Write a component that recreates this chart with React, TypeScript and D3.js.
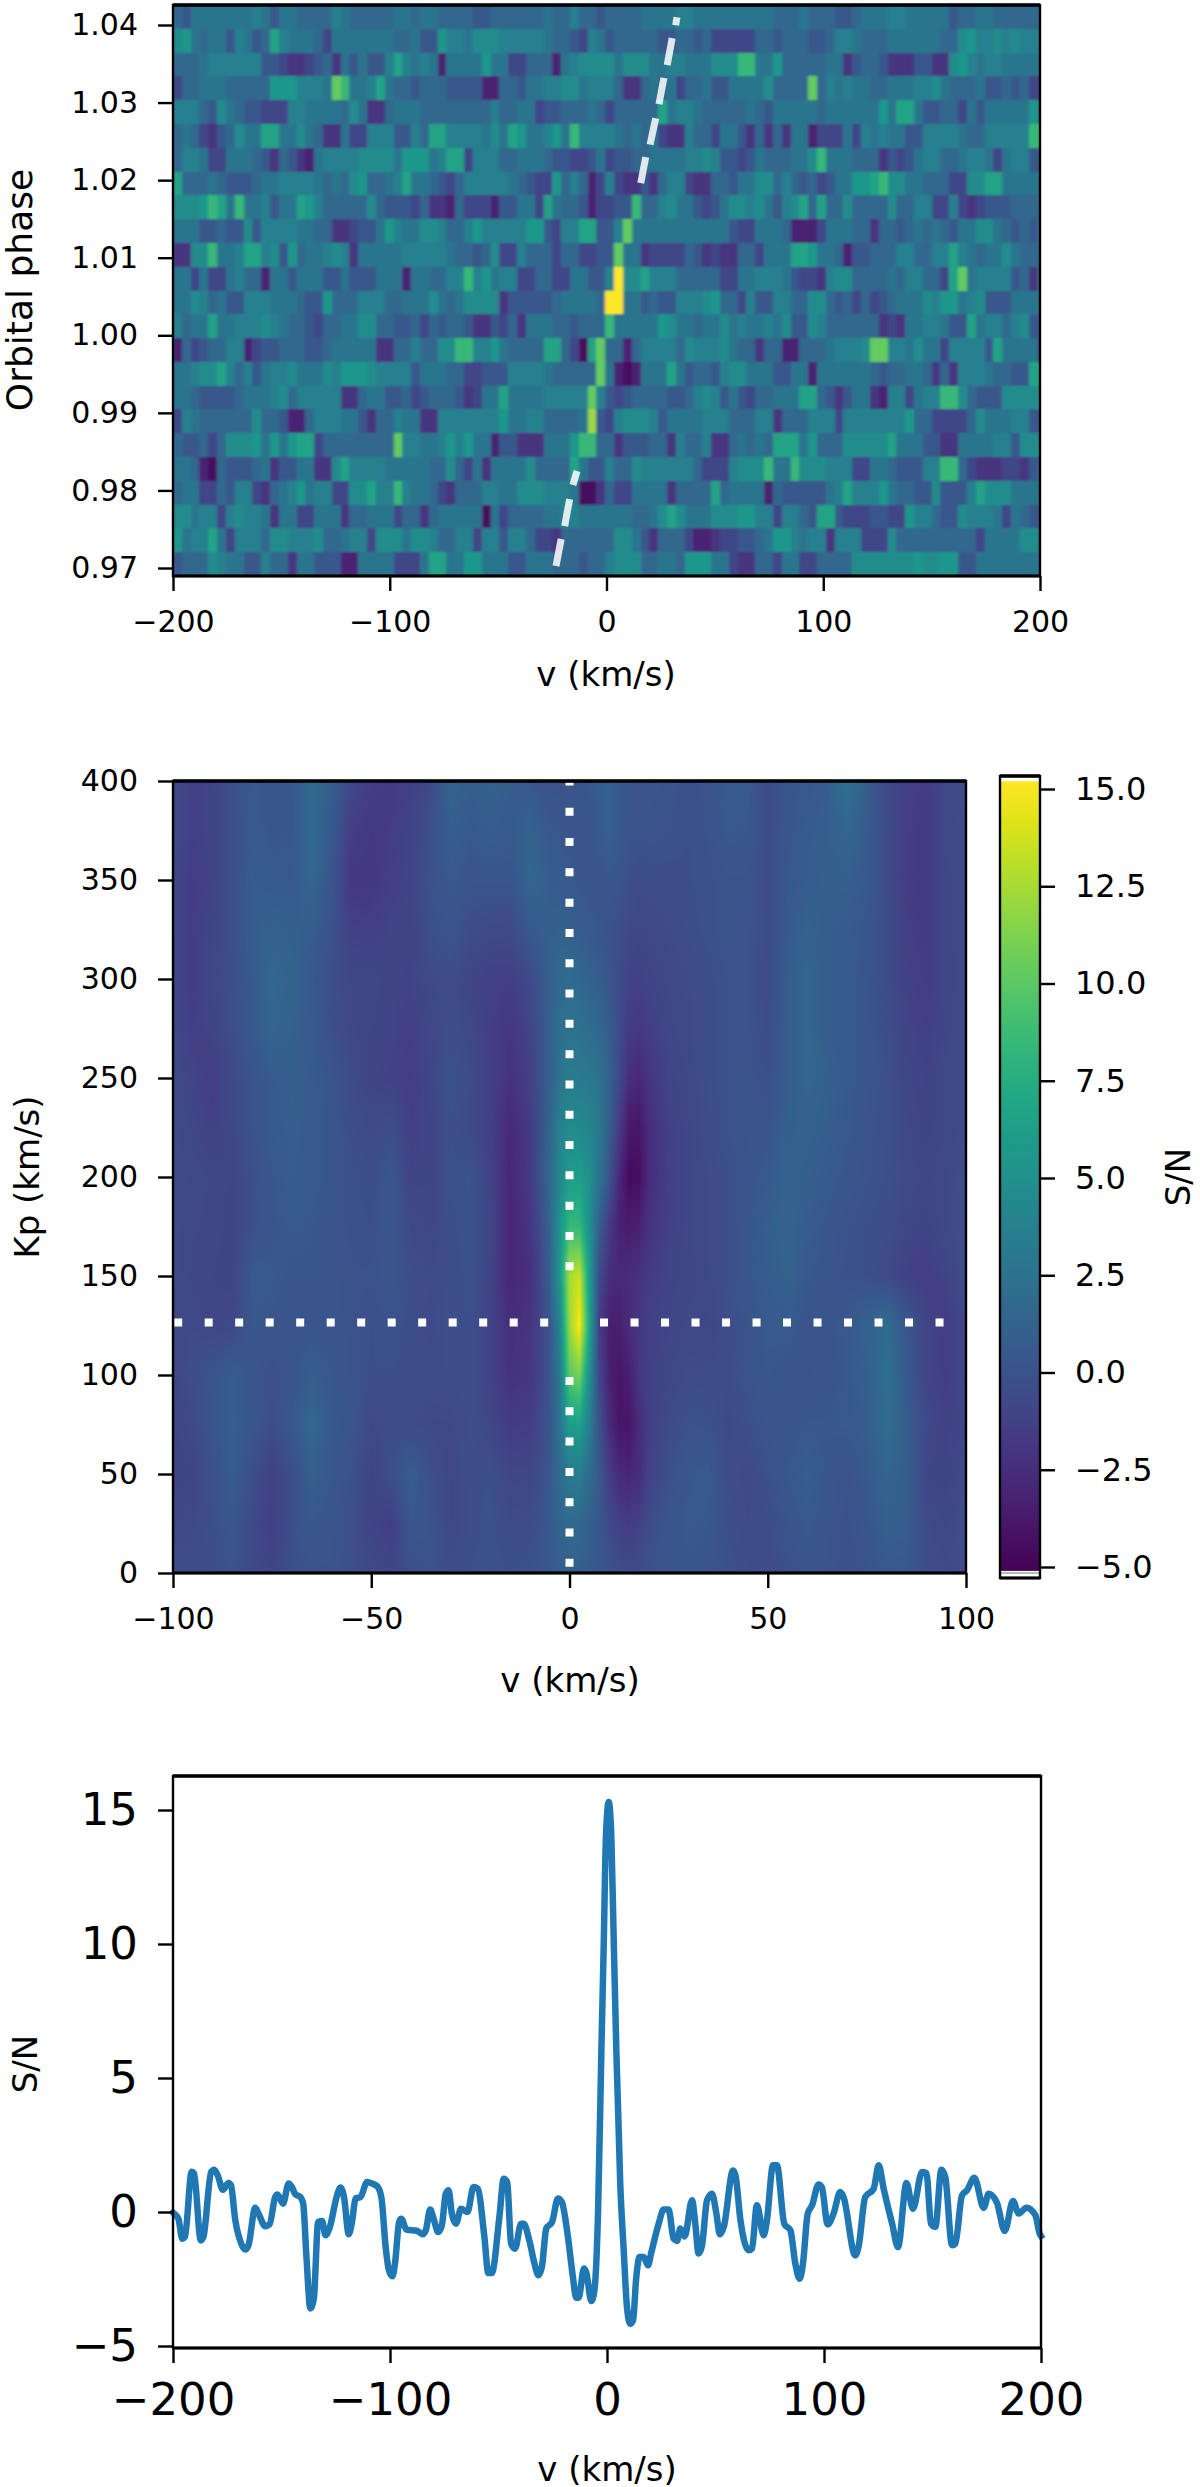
import React, { useRef, useEffect } from 'react';
import * as d3 from 'd3';

const WIDTH = 1200;
const HEIGHT = 2487;
const FONT = '"DejaVu Sans", sans-serif';

// top panel: one string per orbital phase row (top to bottom), one char per velocity bin, hex colour level 0-f
const ccfRows = [
  '5466666667 6466555576 5555566566 5555445555 5565575545 5556666776 6666666655 5655544566 6776666645 5665555555',
  '8965664764 5a76665366 6666655644 9776888777 7765543764 5555544554 5333335545 5544577655 5666666558 9778787764',
  '5556777777 4432234526 46447a7676 1666696633 5551678888 6888667766 6888bb6695 5555662455 4222442289 7677666666',
  '3556665555 59997776cb 667a655455 5444411554 6677886777 5225656355 6446666855 55c5767665 5666778655 5644545333',
  '7775486544 3337766665 8622566655 5555557556 6344555653 55555a6776 5555565466 6665666666 96aa644553 6466666965',
  '5653245866 aa66865226 337774475a a7777686a9 66796b7777 6565632275 5366425252 6613336376 7664477776 5577777bbb',
  '5776336665 4254216777 7888869996 7aa3777556 6654433463 4455666677 8744346555 668b666555 2434677556 7763677444',
  'a555654445 6677776565 895567a665 4357777765 4339575137 3224257732 2554668857 545346699a b886655533 88aa666666',
  '8889ba6b66 7466a97555 5585444352 2153331446 63a6554133 44b5578664 3468878647 8a5a558555 5855773373 2344455555',
  '6664454484 7777665522 3446976688 7557977777 994377aa44 7c66666666 6664336665 1113666552 5545656546 6886545466',
  '2288b667aa 7849566787 2666667777 7655458337 5553553344 c662333354 2322553666 aa96651445 55775577a7 6566865555',
  '6636336755 1664666446 4446661665 577b796773 3553366447 f88a777555 5533667776 4332788555 56577553ac 6777745266',
  '6687564477 7666544955 5777556668 6568888244 444566665f f664544777 8955374477 5588545353 4566687996 7844466666',
  '7566a66777 8765543556 6885544535 4554224352 666554555b 6666698665 6686766768 4487555555 2326677644 a677578444',
  '1534557713 4455544566 6662255755 88bb779655 55aa530ac5 5157777587 7786552551 155567778c c776866377 774a666633',
  '66788a7574 6778666879 9987777466 6553344477 77655555c6 101666a645 5478866644 6616666665 4556652527 7765544aaa',
  '6654444566 6785777772 2566445345 5542366a66 6677777c74 3455554457 8746435566 6aa5424662 1773677bb8 5444888888',
  '3765555558 5541157776 6425576622 7777777966 7755556d43 7888746666 7775557725 5577737777 7779553333 5866677444',
  '5445358889 6969aa3555 55555c7766 7979661442 226669bb55 2444552755 72256565aa a695558888 8a66644226 6667748888',
  '6651054445 624466228a 7777666665 5853626666 85555a6447 5587777775 3337888b66 b888777336 6544477bb5 3222332455',
  '5663354773 2567967733 88a77b7665 3255577668 8877760025 3366662555 5a56666154 444467a777 9655448444 7a88866666',
  '8867737877 6266336662 5566635525 6666606355 5566776666 665568a866 6888997737 754aa43334 4339775448 7776365444',
  '9677a63777 5887778556 7738886887 5577377477 5332555555 8864255531 1233445699 7677277733 3855555555 5366668866',
  '4555876644 7552664441 166663336a a669966644 6665554557 8885566599 9663225536 6335555888 8888988994 4666666666',
];
const ccfColumnStep = 4.07; // km/s per char
const ccfTicksY = [0.97, 0.98, 0.99, 1.0, 1.01, 1.02, 1.03, 1.04];
const ccfTicksX = [-200, -100, 0, 100, 200];
const levelStops = [0, 5.5, 10, 13, 15];
const viridisStops = [0.03, 0.36, 0.58, 0.85, 1];

// dashed orbit trace, [phase, v] at the ends of each visible dash
const orbitDashes = [
  [[0.97026, -23.3], [0.97374, -20.9]],
  [[0.97541, -19.3], [0.97889, -17.0]],
  [[0.9807, -15.5], [0.9825, -13.6]],
  [[1.01961, 15.8], [1.02296, 18.1]],
  [[1.02458, 20.1], [1.02799, 22.7]],
  [[1.02979, 24.2], [1.03318, 26.5]],
  [[1.03482, 28.0], [1.0383, 30.3]],
  [[1.03997, 31.9], [1.041, 32.5]],
];

// Kp-v map, S/N on a coarse grid
const kpVelocities = [-100, -95, -90, -85, -80, -75, -70, -65, -60, -55, -50, -45, -40, -35, -30, -25, -20, -15, -10,
  -7.5, -5, -2.5, 0, 2.5, 5, 7.5, 10, 12.5, 15, 17.5, 20,
  25, 30, 35, 40, 45, 50, 55, 60, 65, 70, 75, 80, 85, 90, 95, 100];
const kpValues = [400, 375, 350, 325, 300, 275, 250, 225, 200, 175, 150, 125, 100, 75, 50, 25, 0];
const kpMap = [
  [-.5,-1.2,-.9,-.2,.5,.2,.4,1.8,.8,-.8,-1.4,-1.6,-1.3,-.6,1.4,.8,1.2,.8,.4, .2,0,0,.1,.2,.4,.8,1.2,.6,.3,0,.2, .1,-.2,.1,.7,.6,-.5,.2,.5,.8,2.4,.8,-.6,-1.3,-1.5,-.6,-.4],
  [-.6,-1.3,-1,-.3,.6,.3,.4,1.8,.6,-1.4,-1.8,-1.5,-1,-.2,.9,.5,.8,.6,1.2, .8,.5,.4,.3,.2,.3,.6,1,.6,.2,0,.1, 0,-.2,0,.5,.4,-.5,.3,.7,.9,1.5,.7,-.5,-1.4,-1.7,-.7,-.5],
  [-.7,-1.5,-1,-.3,.8,.6,.6,1.5,.2,-1.9,-1.9,-1.3,-1,0,.5,.2,.2,.2,1.5, 1.2,.8,.7,.5,.3,.2,.2,.3,.2,-.2,-.4,-.3, -.3,-.2,-.1,.1,.1,-.5,.4,.8,1,1,.5,-.5,-1.5,-1.8,-.8,-.5],
  [-.8,-1.5,-.9,-.2,.8,1.2,1,.8,0,-1.2,-1.3,-1,-1,-.2,.2,-.4,-.6,-.6,.5, .8,1,1.1,1,.8,.6,.3,0,-.3,-.6,-.8,-.7, -.5,-.3,-.1,.1,0,-.4,.6,1.2,.8,.7,.3,-.4,-1.4,-1.6,-.8,-.6],
  [-.9,-1.5,-.8,-.3,.6,1.6,1.2,.5,-.3,-.8,-.8,-1,-1.1,-.6,-.4,-.9,-1.3,-1.4,-.6, .2,1,1.7,2,1.6,1.2,.8,.2,-.5,-1.1,-1.2,-1, -.7,-.5,-.3,0,0,-.5,.8,1.5,.8,.6,.2,-.4,-1.2,-1.5,-.9,-.6],
  [-.7,-1.3,-1,-.3,.5,1.4,1.1,.6,-.2,-.7,-.9,-1,-1.3,-.8,-.3,-.7,-1.4,-1.9,-1, -.1,1,2.2,2.6,2.4,2,1.6,.8,-.4,-1.6,-1.8,-1.4, -.8,-.6,-.3,0,0,-.4,.8,1.5,.8,.6,.2,-.3,-1,-1.3,-.8,-.5],
  [-.5,-1,-1.5,-.6,.1,.7,1,.7,.2,-.5,-1,-1.2,-1.5,-.8,0,-.5,-1.2,-2.2,-1.3, -.2,1,2.6,3.4,3.2,3,2.6,1.2,-.6,-2.4,-2.8,-2, -1,-.7,-.3,0,.1,-.2,.8,1.5,1,.6,.2,-.2,-.8,-1.1,-.7,-.5],
  [-.5,-.8,-1.2,-.7,0,.6,.9,.6,.2,-.3,-.6,-.3,-1.3,-.9,-.2,-.6,-1.3,-2.8,-1.6, -.2,1.4,3.6,4.6,4.4,4,3,.9,-1.5,-3.8,-4,-2.6, -1.2,-.8,-.4,0,.1,.2,1,1.2,.9,.5,.1,-.2,-.7,-1,-.7,-.5],
  [-.5,-.6,-.8,-.9,-.2,.4,.8,.6,.2,-.1,-.3,.3,-1,-.9,-.1,0,-1,-3,-1.6, -.2,1.6,4.2,6,6.2,5,2.6,.2,-2.8,-4.6,-4.4,-2.6, -1.3,-.8,-.5,-.2,.2,.6,1.3,1,.6,.3,0,-.2,-.6,-.8,-.6,-.4],
  [-.5,-.7,-.8,-1,-.2,.3,.5,.4,.2,-.1,-.2,.4,-.6,-.8,-.3,0,-.9,-3,-2, -.6,1.4,5,8.5,8.4,5,1,-1.6,-3.2,-3.6,-3.2,-2.2, -1.2,-.8,-.5,-.2,.3,.9,1.3,.8,.3,0,-.2,-.3,-.8,-1,-.6,-.3],
  [-.5,-.8,-.9,-1,.6,.5,.3,.3,.2,0,0,.3,-.3,-.5,-.3,-.1,-1,-3,-2.3, -1,1,5.5,12.5,13.5,6,-.5,-2.4,-2.8,-2.6,-2.2,-1.6, -1,-.8,-.6,-.2,.3,.8,1.2,.5,.2,-.1,-.2,-.5,-1.2,-1.5,-1,-.3],
  [-.7,-.6,-.8,-.7,.4,.3,.2,.2,.2,.1,-.2,0,-.3,-.6,-.2,-.2,-1.1,-2.4,-2, -1,.2,4,12,15.1,7,-1.5,-3.4,-3.4,-2.6,-1.8,-1.3, -.9,-.7,-.8,-.3,.1,.5,.6,.2,.3,.5,1.2,2,.4,-1,-1.5,-.8],
  [-.9,-.3,.2,.8,.2,-.2,.2,.8,.4,.1,-.2,-.2,-.3,-.4,-.3,-.2,-1.1,-2.2,-1.9, -1,.2,3,10,11,5,-.8,-3.2,-4,-3.4,-2,-1.2, -.8,-.5,-.4,-.5,.1,.4,.2,.1,.2,.5,1,2.2,.6,-1,-1.4,-.7],
  [-1,-.6,.2,.9,.3,-.3,.4,1.6,.5,.2,-.6,-.4,-.5,-.6,-.6,-.3,-.8,-1.6,-1.4, -.7,.3,2.6,6,6.4,3.5,0,-2.6,-4,-4,-2.6,-1.4, -.5,0,-.1,-.6,-.2,.2,.2,.4,.4,.5,.8,2,.8,-.6,-1.2,-.8],
  [-1,-.9,-.1,.8,-.3,-1.2,-.3,1,.4,-.1,-1,-.3,.8,-.2,-.8,-.2,-.2,-.8,-.8, -.4,.5,1.8,3.2,3.4,2,.4,-1.4,-2.6,-3,-2.5,-1.2, -.2,.4,.6,-.4,-.6,-.1,.4,.9,.3,0,.6,1.4,.9,-.9,-1,-.5],
  [-.8,-.6,-.2,.3,-.6,-1.4,-.2,.4,.2,-.2,-1,-1.4,.4,.1,-.8,-.3,-.1,-.5,-.4, -.1,.6,1.4,1.8,1.6,1,.4,-.6,-1.2,-1.6,-1.2,-.4, .2,.5,.4,-.2,-.5,-.4,.1,.5,.2,-.1,.3,1,.9,-.5,-.8,-.3],
  [-.3,-.2,-.3,0,-.6,-.9,-.2,.1,.1,-.2,-.6,-.9,-.3,.1,-.3,-.2,0,-.2,0, .2,.5,.9,1,.9,.6,.4,0,-.3,-.5,-.3,0, .2,.3,.2,-.1,-.3,-.5,-.1,.2,.1,-.2,.1,.5,.4,-.3,-.5,-.2],
];
const kpTicksX = [-100, -50, 0, 50, 100];
const kpTicksY = [0, 50, 100, 150, 200, 250, 300, 350, 400];
const colorbarTicks = [-5, -2.5, 0, 2.5, 5, 7.5, 10, 12.5, 15];
const colorLimits = [-5.1, 15.2];

// dotted guide lines on the map, each a [start, end] run
const guideKpRuns = [[401.8, 152.5], [99, 0]];
const guideVRuns = [[-99.7, -5.3], [7.7, 94.9]];
const guideVelocity = 0;
const guideKp = 126.5;

// bottom panel: S/N against velocity
const snrVelocity = [-200, -199.5, -197.5, -195.7, -194.5, -191.4, -190.3, -187.2, -186, -182.4, -181, -179.4, -177, -174.4, -173.3, -171.3, -168.7, -166.7, -165.2, -162.1, -160.6, -157.5, -155.5, -152.9, -151.8, -149.3, -146.7, -145.2, -143.6, -141.3, -140, -138.5, -136.7, -135.1, -133.1, -131.3, -129.7, -127.7, -124.6, -122.8, -121.2, -119, -117.4, -115.9, -113.6, -110.5, -108.2, -105.9, -104, -102, -100.5, -98.9, -97.7, -95.8, -94.8, -92.4, -87.4, -85, -83.5, -81.5, -79.7, -77.8, -76.1, -74.3, -73, -71.5, -69.6, -67.3, -64.3, -61.5, -59.6, -56.5, -54.7, -53.1, -49.6, -47.6, -46, -44.2, -42.4, -39.6, -38.4, -35.8, -33.4, -31.6, -30, -28, -25.3, -22.6, -20.8, -18, -15.7, -14.2, -13.1, -10.6, -9.6, -7.2, -5.8, -4.1, -2.6, -1.5, -0.5, 0.8, 2, 3, 4.3, 6.1, 7.7, 9.2, 10.7, 12, 13.5, 15, 16.9, 18.9, 20.3, 23.8, 26.1, 28.4, 30.7, 32.3, 33.8, 35.8, 39.2, 40.7, 42.2, 43.8, 46.1, 48.4, 50.4, 52, 53.8, 58.1, 59.2, 61.5, 65.3, 66.8, 69.1, 72.2, 73.7, 76.5, 78.3, 81.7, 84.5, 86.8, 88.8, 90.3, 92.5, 94.5, 97.5, 99, 101.7, 104.4, 107.5, 109, 114.4, 115.9, 119, 122.9, 125.2, 127.5, 131.4, 134.1, 138, 141, 145.2, 147.2, 149.3, 151.3, 154.1, 155.9, 159, 160.5, 163.6, 165.9, 169.3, 173.6, 175.9, 179.7, 183.3, 187.1, 189.7, 193.3, 197.4, 199.4, 200];
const snrValues = [-0.02, -0.06, -0.25, -1.0, -0.93, 1.5, 1.44, -1.06, -0.93, 1.5, 1.58, 1.37, 0.83, 1.08, 1.0, -0.3, -1.15, -1.4, -1.24, 0.16, -0.06, -0.53, -0.46, 0.56, 0.65, 0.31, 1.06, 0.93, 0.66, 0.56, 0.31, -1.68, -3.6, -3.23, -0.37, -0.34, -0.87, -0.56, 0.56, 0.91, 0.56, -0.83, -0.31, 0.5, 0.56, 1.12, 1.06, 0.96, 0.56, -1.31, -2.18, -2.4, -1.93, -0.37, -0.25, -0.66, -0.71, -0.83, -0.68, 0.09, -0.31, -0.75, -0.5, 0.68, 0.81, -0.06, -0.44, 0.12, 0, 0.93, 0.87, -0.93, -2.28, -2.28, -0.19, 1.24, 1.12, -1.18, -1.37, -0.44, -0.44, -1.06, -1.93, -2.36, -2.05, -0.62, -0.37, 0.5, 0.37, -0.93, -2.43, -3.2, -3.2, -2.11, -2.24, -3.32, -2.92, 0.06, 6.0, 10, 14, 15.3, 14, 10.5, 6.03, 1.06, -1.43, -3.54, -4.17, -4.04, -2.43, -1.68, -1.68, -1.99, -1.55, -0.44, 0.09, 0.09, -1.0, -1.08, -0.62, -0.91, 0.44, -0.44, -1.55, -1.24, 0.44, 0.68, -0.06, -0.83, -0.56, 1.55, 1.37, -0.31, -1.43, -1.37, 0.25, -0.87, -0.31, 1.74, 1.74, -0.44, -0.68, -1.93, -2.49, -1.93, -0.06, 0.25, 1.03, 0.93, -0.46, -0.06, 0.75, 0.56, -1.62, -1.31, 0.56, 0.87, 1.74, 0.87, -0.44, -1.31, 1.08, 0.12, 1.49, 1.45, -0.44, -0.56, 1.58, 1.3, -1.24, -1.18, 0.62, 0.81, 1.28, 0.16, 0.68, 0.34, -0.71, 0.41, -0.06, 0.16, -0.12, -0.81, -0.9];
const snrTicksX = [-200, -100, 0, 100, 200];
const snrTicksY = [-5, 0, 5, 10, 15];

const TICK_LEN = 15;
const TICK_PAD = 20;

type Sel = d3.Selection<any, unknown, null, undefined>;

function drawAxis(root: Sel, axis: d3.Axis<any>, tx: number, ty: number, size: number) {
  const g = root.append('g').attr('transform', `translate(${tx},${ty})`).call(axis);
  g.select('.domain').remove();
  g.selectAll('.tick line').attr('stroke', '#000').attr('stroke-width', 2.4);
  g.selectAll('.tick text').attr('fill', '#000').attr('font-size', size).attr('font-family', FONT);
}

function drawFrame(root: Sel, x0: number, x1: number, y0: number, y1: number) {
  root.append('rect').attr('x', x0).attr('y', y0).attr('width', x1 - x0).attr('height', y1 - y0)
    .attr('fill', 'none').attr('stroke', '#000').attr('stroke-width', 2.4);
  root.append('line').attr('x1', x0).attr('x2', x1).attr('y1', y0).attr('y2', y0).attr('stroke', '#000').attr('stroke-width', 3.6);
  root.append('line').attr('x1', x0).attr('x2', x1).attr('y1', y1).attr('y2', y1).attr('stroke', '#000').attr('stroke-width', 3);
}

function label(root: Sel, text: string, x: number, y: number, rotate = false, size = 34) {
  root.append('text')
    .attr('transform', `translate(${x},${y})${rotate ? ' rotate(-90)' : ''}`)
    .attr('text-anchor', 'middle')
    .attr('dominant-baseline', 'central')
    .attr('font-family', FONT)
    .attr('font-size', size)
    .attr('fill', '#000')
    .text(text);
}

const App: React.FC = () => {
  const svgRef = useRef<SVGSVGElement>(null);

  useEffect(() => {
    if (!svgRef.current) return;
    const svg = d3.select(svgRef.current) as unknown as Sel;
    svg.selectAll('*').remove();
    const defs = svg.append('defs');
    const colorScale = d3.scaleSequential(d3.interpolateViridis).domain(colorLimits as [number, number]);

    // ---- top panel: CCF per phase
    const ccfLeft = 173, ccfRight = 1040, ccfTop = 5, ccfBottom = 576;
    const ccfX = d3.scaleLinear().domain([-200, 200]).range([ccfLeft, ccfRight]);
    const ccfY = d3.scaleLinear().domain([0.97, 1.04]).range([568, 25]);
    const rowBand = d3.scaleBand<number>().domain(d3.range(ccfRows.length)).range([ccfTop, ccfBottom]);
    const levelT = d3.scaleLinear().domain(levelStops).range(viridisStops);
    const levelColor = (l: number) => d3.interpolateViridis(levelT(l));

    defs.append('clipPath').attr('id', 'ccf-clip').append('rect')
      .attr('x', ccfLeft).attr('y', ccfTop).attr('width', ccfRight - ccfLeft).attr('height', ccfBottom - ccfTop);
    const blur = defs.append('filter').attr('id', 'ccf-blur').attr('x', '-2%').attr('y', '-2%').attr('width', '104%').attr('height', '104%');
    blur.append('feGaussianBlur').attr('stdDeviation', '1.7 0.9');

    const ccfClip = svg.append('g').attr('clip-path', 'url(#ccf-clip)');
    ccfClip.append('rect').attr('x', ccfLeft).attr('y', ccfTop).attr('width', ccfRight - ccfLeft).attr('height', ccfBottom - ccfTop).attr('fill', levelColor(5.5));
    const ccfCells = ccfClip.append('g').attr('filter', 'url(#ccf-blur)').attr('shape-rendering', 'crispEdges');
    ccfRows.forEach((row, r) => {
      row.replace(/ /g, '').split('').forEach((ch, c) => {
        const v0 = -200 + c * ccfColumnStep;
        ccfCells.append('rect')
          .attr('x', ccfX(v0))
          .attr('y', rowBand(r)!)
          .attr('width', ccfX(v0 + ccfColumnStep) - ccfX(v0) + 0.5)
          .attr('height', rowBand.bandwidth() + 0.5)
          .attr('fill', levelColor(parseInt(ch, 16)));
      });
    });

    orbitDashes.forEach(dash => {
      svg.append('line')
        .attr('x1', ccfX(dash[0][1])).attr('y1', ccfY(dash[0][0]))
        .attr('x2', ccfX(dash[1][1])).attr('y2', ccfY(dash[1][0]))
        .attr('stroke', '#ffffff').attr('stroke-opacity', 0.85).attr('stroke-width', 7);
    });

    drawFrame(svg, ccfLeft, ccfRight, ccfTop, ccfBottom);
    drawAxis(svg, d3.axisBottom(ccfX).tickValues(ccfTicksX).tickFormat(d3.format('.0f') as any).tickSize(TICK_LEN).tickPadding(TICK_PAD), 0, ccfBottom, 30);
    drawAxis(svg, d3.axisLeft(ccfY).tickValues(ccfTicksY).tickFormat(d3.format('.2f') as any).tickSize(TICK_LEN).tickPadding(TICK_PAD), ccfLeft, 0, 30);
    label(svg, 'v (km/s)', 606, 674);
    label(svg, 'Orbital phase', 19, 290, true, 36);

    // ---- middle panel: Kp-v map
    const mapLeft = 173, mapRight = 966, mapTop = 781, mapBottom = 1573;
    const mapX = d3.scaleLinear().domain([-100, 100]).range([mapLeft, mapRight]);
    const mapY = d3.scaleLinear().domain([0, 400]).range([mapBottom, mapTop]);
    const colIndex = d3.scaleLinear().domain(kpVelocities).range(kpVelocities.map((_, i) => i)).clamp(true);
    const rowIndex = d3.scaleLinear().domain(kpValues).range(kpValues.map((_, i) => i)).clamp(true);

    const w = mapRight - mapLeft, h = mapBottom - mapTop;
    const canvas = document.createElement('canvas');
    canvas.width = w;
    canvas.height = h;
    const ctx = canvas.getContext('2d')!;
    const img = ctx.createImageData(w, h);
    for (let py = 0; py < h; py++) {
      const rf = rowIndex(mapY.invert(mapTop + py + 0.5));
      const r0 = Math.min(Math.floor(rf), kpValues.length - 2);
      for (let px = 0; px < w; px++) {
        const cf = colIndex(mapX.invert(mapLeft + px + 0.5));
        const c0 = Math.min(Math.floor(cf), kpVelocities.length - 2);
        const top = d3.interpolateNumber(kpMap[r0][c0], kpMap[r0][c0 + 1])(cf - c0);
        const bot = d3.interpolateNumber(kpMap[r0 + 1][c0], kpMap[r0 + 1][c0 + 1])(cf - c0);
        const rgb = d3.rgb(colorScale(top + (bot - top) * (rf - r0)));
        const k = (py * w + px) * 4;
        img.data[k] = rgb.r; img.data[k + 1] = rgb.g; img.data[k + 2] = rgb.b; img.data[k + 3] = 255;
      }
    }
    ctx.putImageData(img, 0, 0);
    svg.append('image').attr('x', mapLeft).attr('y', mapTop).attr('width', w).attr('height', h)
      .attr('preserveAspectRatio', 'none').attr('href', canvas.toDataURL());

    defs.append('clipPath').attr('id', 'map-clip').append('rect').attr('x', mapLeft).attr('y', mapTop).attr('width', w).attr('height', h);
    const guides = svg.append('g').attr('clip-path', 'url(#map-clip)');
    guideKpRuns.forEach(run => {
      guides.append('line')
        .attr('x1', mapX(guideVelocity)).attr('x2', mapX(guideVelocity))
        .attr('y1', mapY(run[0])).attr('y2', mapY(run[1]))
        .attr('stroke', '#fff').attr('stroke-width', 8).attr('stroke-dasharray', '8 22.3');
    });
    guideVRuns.forEach(run => {
      guides.append('line')
        .attr('x1', mapX(run[0])).attr('x2', mapX(run[1]))
        .attr('y1', mapY(guideKp)).attr('y2', mapY(guideKp))
        .attr('stroke', '#fff').attr('stroke-width', 8).attr('stroke-dasharray', '8 22.5');
    });

    drawFrame(svg, mapLeft, mapRight, mapTop, mapBottom);
    drawAxis(svg, d3.axisBottom(mapX).tickValues(kpTicksX).tickFormat(d3.format('.0f') as any).tickSize(TICK_LEN).tickPadding(TICK_PAD), 0, mapBottom, 30);
    drawAxis(svg, d3.axisLeft(mapY).tickValues(kpTicksY).tickFormat(d3.format('.0f') as any).tickSize(TICK_LEN).tickPadding(TICK_PAD), mapLeft, 0, 30);
    label(svg, 'v (km/s)', 570, 1680);
    label(svg, 'Kp (km/s)', 27, 1177, true);

    // colorbar
    const barLeft = 1000, barRight = 1040, barTop = 776, barBottom = 1578;
    const barY = d3.scaleLinear().domain([-5, 15]).range([1567, 789]);
    const gradient = defs.append('linearGradient').attr('id', 'viridis-bar').attr('x1', 0).attr('x2', 0).attr('y1', 1).attr('y2', 0);
    d3.range(0, 1.001, 0.05).forEach(t => {
      gradient.append('stop').attr('offset', t).attr('stop-color', d3.interpolateViridis(t));
    });
    svg.append('rect').attr('x', barLeft).attr('y', barY(colorLimits[1])).attr('width', barRight - barLeft)
      .attr('height', barY(colorLimits[0]) - barY(colorLimits[1])).attr('fill', 'url(#viridis-bar)');
    svg.append('line').attr('x1', barLeft).attr('x2', barRight).attr('y1', 1573).attr('y2', 1573).attr('stroke', '#bbb').attr('stroke-width', 2);
    drawFrame(svg, barLeft, barRight, barTop, barBottom);
    drawAxis(svg, d3.axisRight(barY).tickValues(colorbarTicks).tickFormat(d3.format('.1f') as any).tickSize(TICK_LEN).tickPadding(TICK_PAD), barRight, 0, 32);
    label(svg, 'S/N', 1178, 1177, true);

    // ---- bottom panel: S/N curve
    const snrLeft = 173, snrRight = 1041, snrTop = 1776, snrBottom = 2348;
    const snrX = d3.scaleLinear().domain([-200, 200]).range([snrLeft, snrRight]);
    const snrY = d3.scaleLinear().domain([-5, 15]).range([2346, 1810]);
    const line = d3.line<number>()
      .x((_, i) => snrX(snrVelocity[i]))
      .y(d => snrY(d))
      .curve(d3.curveMonotoneX);
    svg.append('path').datum(snrValues).attr('d', line)
      .attr('fill', 'none').attr('stroke', '#1f77b4').attr('stroke-width', 6.5).attr('stroke-linejoin', 'round').attr('stroke-linecap', 'square');

    drawFrame(svg, snrLeft, snrRight, snrTop, snrBottom);
    drawAxis(svg, d3.axisBottom(snrX).tickValues(snrTicksX).tickFormat(d3.format('.0f') as any).tickSize(TICK_LEN).tickPadding(TICK_PAD), 0, snrBottom, 45);
    drawAxis(svg, d3.axisLeft(snrY).tickValues(snrTicksY).tickFormat(d3.format('.0f') as any).tickSize(TICK_LEN).tickPadding(TICK_PAD), snrLeft, 0, 45);
    label(svg, 'v (km/s)', 607, 2469);
    label(svg, 'S/N', 25, 2064, true);
  }, []);

  return <svg ref={svgRef} width={WIDTH} height={HEIGHT} style={{ position: 'absolute', left: 0, top: 0, background: '#fff' }} />;
};

export default App;
